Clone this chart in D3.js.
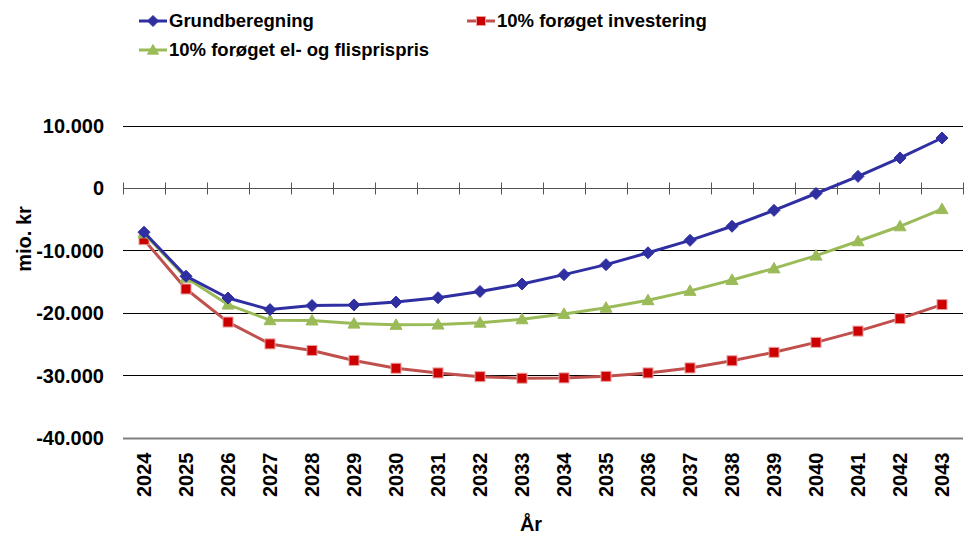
<!DOCTYPE html>
<html>
<head>
<meta charset="utf-8">
<script src="https://cdn.jsdelivr.net/npm/d3@7"></script>
<style>
  html, body { margin: 0; padding: 0; background: #fff; }
  svg { display: block; font-family: "Liberation Sans", Arial, sans-serif; font-weight: bold; }
</style>
</head>
<body>
<svg id="chart" width="964" height="535"></svg>
<script>
const years = ["2024","2025","2026","2027","2028","2029","2030","2031","2032","2033","2034","2035","2036","2037","2038","2039","2040","2041","2042","2043"];
const grundberegning = [-7100,-14150,-17650,-19500,-18850,-18750,-18300,-17600,-16600,-15400,-13900,-12300,-10400,-8400,-6150,-3600,-900,1850,4800,8000];
const investering = [-8300,-16200,-21500,-25000,-26050,-27650,-28900,-29650,-30250,-30500,-30450,-30200,-29650,-28850,-27700,-26350,-24750,-22950,-20950,-18700];
const elFlis = [-7300,-14400,-18700,-21200,-21250,-21750,-21950,-21900,-21600,-21050,-20200,-19200,-18000,-16500,-14750,-12900,-10850,-8550,-6150,-3400];
const yTicks = [10000,0,-10000,-20000,-30000,-40000];
const seriesNames = ["Grundberegning","10% forøget investering","10% forøget el- og flisprispris"];

const series = [
  {name: seriesNames[0], values: grundberegning, line: "#2F2FA2", fill: "#2F2FA2", marker: "diamond"},
  {name: seriesNames[1], values: investering, line: "#C0504D", fill: "#CC0000", marker: "square"},
  {name: seriesNames[2], values: elFlis, line: "#9BBB59", fill: "#9BBB59", marker: "triangle"}
];

const svg = d3.select("#chart");
const L = 123, R = 963, T = 125.5, B = 437.5;
const x = d3.scaleBand().domain(years).range([L, R]).padding(0);
const y = d3.scaleLinear().domain([-40000, 10000]).range([B, T]);
const fmt = v => v === 0 ? "0" : d3.format(",")(v).replace(/,/g, ".").replace("−","-");

// gridlines
const grid = svg.append("g");
yTicks.forEach(t => {
  grid.append("line").attr("x1", L).attr("x2", R)
    .attr("y1", Math.round(y(t)) + 0.5).attr("y2", Math.round(y(t)) + 0.5)
    .attr("stroke", t === -40000 ? "#808080" : (t === 0 ? "#555" : "#000"))
    .attr("stroke-width", t === -40000 ? 2 : 1);
});

// y labels
const yAxis = d3.axisLeft(y).tickValues(yTicks).tickFormat(fmt).tickSize(0).tickPadding(0);
const ya = svg.append("g").attr("transform", `translate(104,0)`).call(yAxis);
ya.select(".domain").remove();
ya.selectAll("text").attr("font-size", 20).attr("font-weight", "bold").attr("font-family", "Liberation Sans, Arial, sans-serif").attr("fill", "#000").attr("dy", "0.35em");

// x axis at zero with cross ticks
const zy = Math.round(y(0)) + 0.5;
const bounds = years.map(d => x(d)).concat([R]);
svg.append("g").selectAll("line").data(bounds).join("line")
  .attr("x1", d => Math.round(d) + 0.5).attr("x2", d => Math.round(d) + 0.5)
  .attr("y1", zy - 6).attr("y2", zy + 6)
  .attr("stroke", "#555").attr("stroke-width", 1);

// x labels at bottom
const xa = svg.append("g").attr("transform", `translate(0,${B})`)
  .call(d3.axisBottom(x).tickSize(0).tickPadding(0));
xa.select(".domain").remove();
xa.selectAll("text")
  .attr("font-size", 20).attr("font-weight", "bold").attr("font-family", "Liberation Sans, Arial, sans-serif").attr("fill", "#000")
  .attr("transform", "rotate(-90)")
  .attr("text-anchor", "end")
  .attr("x", -15).attr("y", 0).attr("dy", "0.35em");

// axis titles
svg.append("text").attr("x", 531).attr("y", 531).attr("text-anchor", "middle")
  .attr("font-size", 20).text("År");
svg.append("text").attr("transform", "translate(31,239) rotate(-90)").attr("text-anchor", "middle")
  .attr("font-size", 20).text("mio. kr");

function marker(sel, type, size, fill, stroke) {
  if (type === "diamond") {
    const s = size / 2 + 1;
    sel.append("path").attr("d", `M0,${-s}L${s},0L0,${s}L${-s},0Z`).attr("fill", fill).attr("stroke", stroke).attr("stroke-width", 1);
  } else if (type === "square") {
    const s = size / 2;
    sel.append("rect").attr("x", -s).attr("y", -s).attr("width", size).attr("height", size).attr("fill", fill).attr("stroke", "#E8A0A0").attr("stroke-width", 1);
  } else {
    const s = size / 2 + 1;
    sel.append("path").attr("d", `M0,${-s}L${s},${s * 0.75}L${-s},${s * 0.75}Z`).attr("fill", fill).attr("stroke", stroke).attr("stroke-width", 1);
  }
}

const line = d3.line().x((d, i) => x(years[i]) + x.bandwidth() / 2).y(d => y(d));
[series[1], series[2], series[0]].forEach(s => {
  const g = svg.append("g");
  g.append("path").datum(s.values).attr("d", line).attr("fill", "none")
    .attr("stroke", s.line).attr("stroke-width", 3).attr("stroke-linejoin", "round");
  s.values.forEach((v, i) => {
    const mg = g.append("g").attr("transform", `translate(${x(years[i]) + x.bandwidth() / 2},${y(v)})`);
    marker(mg, s.marker, 10, s.fill, s.line);
  });
});

// legend
const legendItems = [
  {s: series[0], x: 139, y: 21},
  {s: series[1], x: 467, y: 21},
  {s: series[2], x: 139, y: 50}
];
legendItems.forEach(it => {
  const g = svg.append("g").attr("transform", `translate(${it.x},${it.y})`);
  g.append("line").attr("x1", 0).attr("x2", 28).attr("y1", 0).attr("y2", 0).attr("stroke", it.s.line).attr("stroke-width", 3);
  const mg = g.append("g").attr("transform", "translate(14,0)");
  marker(mg, it.s.marker, 9, it.s.fill, it.s.line);
  g.append("text").attr("x", 30).attr("y", 0).attr("dy", "0.35em").attr("font-size", 18.5).attr("fill", "#000").text(it.s.name);
});
</script>
</body>
</html>
